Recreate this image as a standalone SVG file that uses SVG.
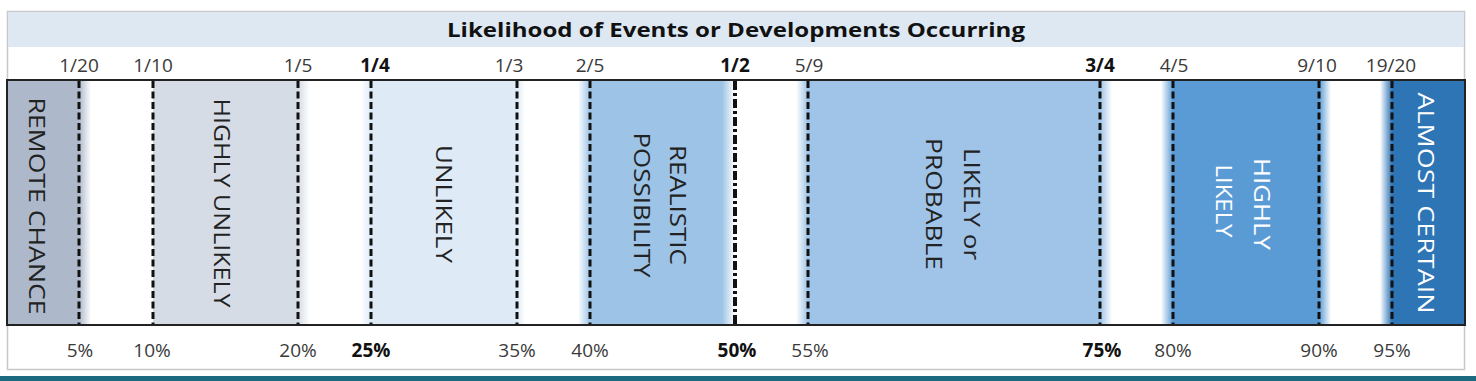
<svg xmlns="http://www.w3.org/2000/svg" width="1476" height="381" viewBox="0 0 1476 381">
<style>
.frac{font-family:"Open Sans","Liberation Sans",sans-serif;font-size:19px;fill:#3a3a3a;text-anchor:middle}
.b{font-weight:bold;fill:#111}
.lab{font-family:"Open Sans","Liberation Sans",sans-serif;font-size:22px;fill:#222;text-anchor:middle}
.w{fill:#ffffff}
.dash{stroke:#111;stroke-width:3;stroke-dasharray:7 3.5;fill:none}
.dashdot{stroke:#111;stroke-width:4;stroke-dasharray:9 3 3 3;fill:none}
</style>
<defs>
<linearGradient id="rRem"><stop offset="0" stop-color="#adb9ca"/><stop offset="1" stop-color="#fff"/></linearGradient>
<linearGradient id="rHU"><stop offset="0" stop-color="#d6dce5"/><stop offset="1" stop-color="#fff"/></linearGradient>
<linearGradient id="lUn"><stop offset="0" stop-color="#fff"/><stop offset="1" stop-color="#deebf7"/></linearGradient>
<linearGradient id="rUn"><stop offset="0" stop-color="#deebf7"/><stop offset="1" stop-color="#fff"/></linearGradient>
<linearGradient id="lMid"><stop offset="0" stop-color="#fff"/><stop offset="1" stop-color="#9dc3e6"/></linearGradient>
<linearGradient id="rMid"><stop offset="0" stop-color="#9dc3e6"/><stop offset="1" stop-color="#fff"/></linearGradient>
<linearGradient id="lHL"><stop offset="0" stop-color="#fff"/><stop offset="1" stop-color="#5b9bd5"/></linearGradient>
<linearGradient id="rHL"><stop offset="0" stop-color="#5b9bd5"/><stop offset="1" stop-color="#fff"/></linearGradient>
<linearGradient id="lAC"><stop offset="0" stop-color="#fff"/><stop offset="1" stop-color="#2e75b6"/></linearGradient>
</defs>
<rect width="1476" height="381" fill="#ffffff"/>
<g id="frame">
<rect x="7.5" y="11.5" width="1457" height="358" fill="#fff" stroke="#c8c8c8" stroke-width="1.5"/>
<rect x="8" y="12" width="1456" height="35" fill="#dde8f3"/>
<text x="736" y="37" font-family="'Open Sans','Liberation Sans',sans-serif" font-size="20" font-weight="bold" fill="#111" text-anchor="middle" textLength="578" lengthAdjust="spacingAndGlyphs">Likelihood of Events or Developments Occurring</text>
<rect x="0" y="376" width="1476" height="5" fill="#1b6a80"/>
</g>
<g id="remote-chance">
<rect x="7" y="80" width="72" height="245" fill="#adb9ca"/>
<rect x="79" y="80" width="12" height="245" fill="url(#rRem)"/>
<text class="lab" transform="translate(37,206) rotate(90)" y="8" textLength="217" lengthAdjust="spacingAndGlyphs">REMOTE CHANCE</text>
</g>
<g id="highly-unlikely">
<rect x="153" y="80" width="145" height="245" fill="#d6dce5"/>
<rect x="298" y="80" width="12" height="245" fill="url(#rHU)"/>
<text class="lab" transform="translate(222,203) rotate(90)" y="8" textLength="209" lengthAdjust="spacingAndGlyphs">HIGHLY UNLIKELY</text>
</g>
<g id="unlikely">
<rect x="361" y="80" width="10" height="245" fill="url(#lUn)"/>
<rect x="371" y="80" width="146" height="245" fill="#deebf7"/>
<rect x="517" y="80" width="8" height="245" fill="url(#rUn)"/>
<text class="lab" transform="translate(444,204) rotate(90)" y="8" textLength="118" lengthAdjust="spacingAndGlyphs">UNLIKELY</text>
</g>
<g id="realistic-possibility">
<rect x="578" y="80" width="12" height="245" fill="url(#lMid)"/>
<rect x="590" y="80" width="132" height="245" fill="#9dc3e6"/>
<rect x="722" y="80" width="13" height="245" fill="url(#rMid)"/>
<text class="lab" transform="translate(678,205) rotate(90)" y="8" textLength="120" lengthAdjust="spacingAndGlyphs">REALISTIC</text>
<text class="lab" transform="translate(642,205) rotate(90)" y="8" textLength="145" lengthAdjust="spacingAndGlyphs">POSSIBILITY</text>
</g>
<g id="likely-or-probable">
<rect x="796" y="80" width="12" height="245" fill="url(#lMid)"/>
<rect x="808" y="80" width="292" height="245" fill="#9fc4e8"/>
<rect x="1100" y="80" width="12" height="245" fill="url(#rMid)"/>
<text class="lab" transform="translate(972,204) rotate(90)" y="8" textLength="112" lengthAdjust="spacingAndGlyphs">LIKELY or</text>
<text class="lab" transform="translate(934,204) rotate(90)" y="8" textLength="132" lengthAdjust="spacingAndGlyphs">PROBABLE</text>
</g>
<g id="highly-likely">
<rect x="1161" y="80" width="12" height="245" fill="url(#lHL)"/>
<rect x="1173" y="80" width="146" height="245" fill="#5b9bd5"/>
<rect x="1319" y="80" width="12" height="245" fill="url(#rHL)"/>
<text class="lab w" transform="translate(1262,204) rotate(90)" y="8" textLength="92" lengthAdjust="spacingAndGlyphs">HIGHLY</text>
<text class="lab w" transform="translate(1224,201) rotate(90)" y="8" textLength="73" lengthAdjust="spacingAndGlyphs">LIKELY</text>
</g>
<g id="almost-certain">
<rect x="1380" y="80" width="12" height="245" fill="url(#lAC)"/>
<rect x="1392" y="80" width="73" height="245" fill="#2e75b6"/>
<text class="lab w" transform="translate(1426,203) rotate(90)" y="8" textLength="221" lengthAdjust="spacingAndGlyphs">ALMOST CERTAIN</text>
</g>
<g id="connectors">
<rect x="7" y="80" width="1458" height="245" fill="none" stroke="#222" stroke-width="2"/>
<line class="dash" x1="79" y1="81" x2="79" y2="324"/>
<line class="dash" x1="153" y1="81" x2="153" y2="324"/>
<line class="dash" x1="298" y1="81" x2="298" y2="324"/>
<line class="dash" x1="371" y1="81" x2="371" y2="324"/>
<line class="dash" x1="517" y1="81" x2="517" y2="324"/>
<line class="dash" x1="590" y1="81" x2="590" y2="324"/>
<line class="dashdot" x1="735" y1="81" x2="735" y2="324"/>
<line class="dash" x1="808" y1="81" x2="808" y2="324"/>
<line class="dash" x1="1100" y1="81" x2="1100" y2="324"/>
<line class="dash" x1="1173" y1="81" x2="1173" y2="324"/>
<line class="dash" x1="1319" y1="81" x2="1319" y2="324"/>
<line class="dash" x1="1392" y1="81" x2="1392" y2="324"/>
</g>
<g id="fractions">
<text class="frac" x="79" y="72">1/20</text>
<text class="frac" x="153" y="72">1/10</text>
<text class="frac" x="298" y="72">1/5</text>
<text class="frac b" x="375" y="72">1/4</text>
<text class="frac" x="509" y="72">1/3</text>
<text class="frac" x="590" y="72">2/5</text>
<text class="frac b" x="735" y="72">1/2</text>
<text class="frac" x="809" y="72">5/9</text>
<text class="frac b" x="1100" y="72">3/4</text>
<text class="frac" x="1174" y="72">4/5</text>
<text class="frac" x="1317" y="72">9/10</text>
<text class="frac" x="1391" y="72">19/20</text>
</g>
<g id="percentages">
<text class="frac" x="80" y="357">5%</text>
<text class="frac" x="152" y="357">10%</text>
<text class="frac" x="298" y="357">20%</text>
<text class="frac b" x="371" y="357">25%</text>
<text class="frac" x="517" y="357">35%</text>
<text class="frac" x="590" y="357">40%</text>
<text class="frac b" x="737" y="357">50%</text>
<text class="frac" x="810" y="357">55%</text>
<text class="frac b" x="1102" y="357">75%</text>
<text class="frac" x="1173" y="357">80%</text>
<text class="frac" x="1319" y="357">90%</text>
<text class="frac" x="1392" y="357">95%</text>
</g>
</svg>
